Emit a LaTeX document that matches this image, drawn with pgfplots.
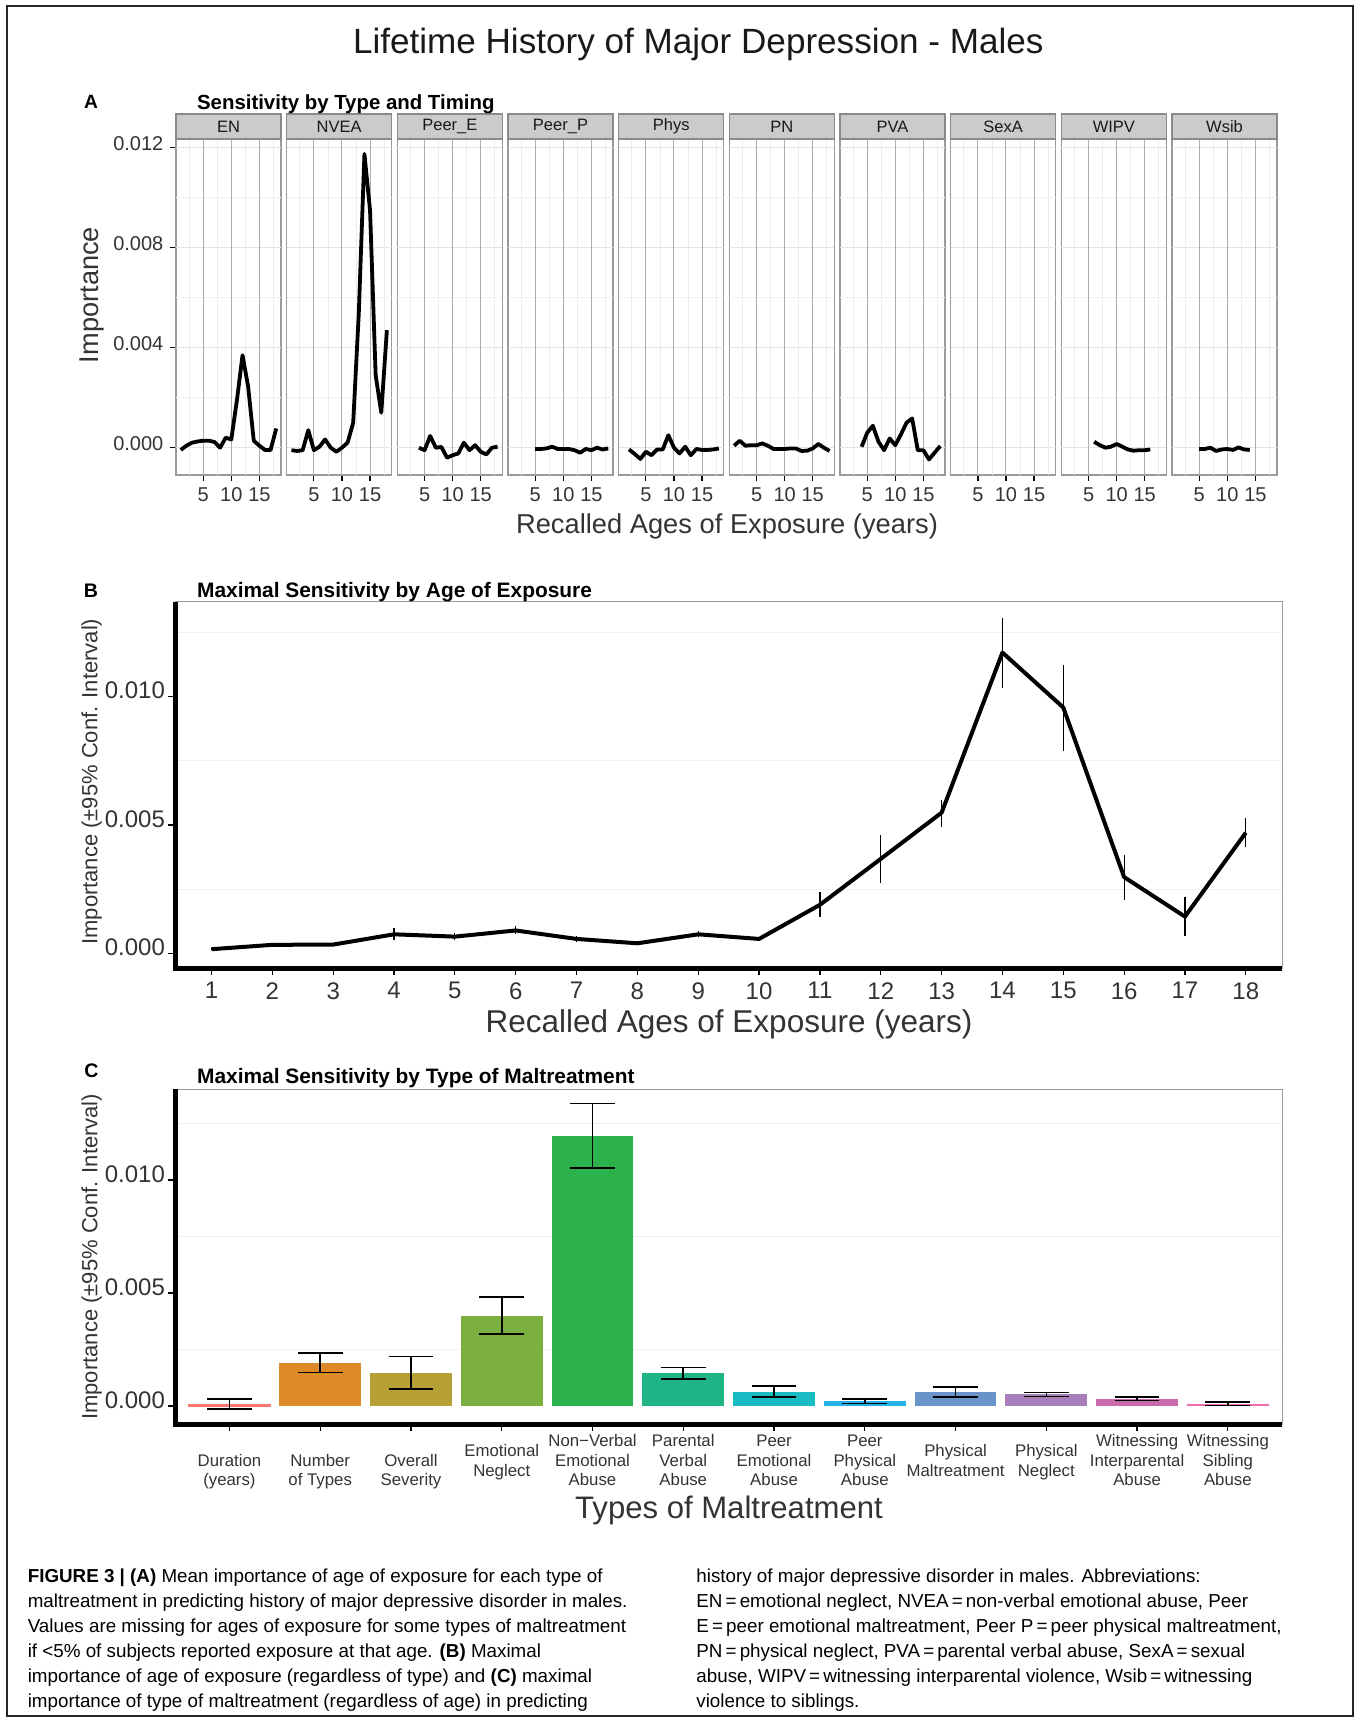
\documentclass[border=0pt]{standalone}
\usepackage{fontspec}
\setmainfont{Liberation Sans}
\usepackage{pgfplots}
\pgfplotsset{compat=1.18}

\definecolor{stripfill}{HTML}{CBCBCB}
\definecolor{stripdraw}{HTML}{8A8A8A}
\definecolor{pborder}{HTML}{9A9A9A}
\definecolor{gmajx}{HTML}{ADADAD}
\definecolor{gminx}{HTML}{EDEDED}
\definecolor{gmajy}{HTML}{E4E4E4}
\definecolor{gminy}{HTML}{F2F2F2}
\definecolor{gridBC}{HTML}{F0F0F0}
\definecolor{txtgray}{HTML}{333333}
\definecolor{cA}{HTML}{F8766D}
\definecolor{cB}{HTML}{DF8A28}
\definecolor{cC}{HTML}{B6A035}
\definecolor{cD}{HTML}{7BAF40}
\definecolor{cE}{HTML}{2BB24C}
\definecolor{cF}{HTML}{20B586}
\definecolor{cG}{HTML}{18BCC2}
\definecolor{cH}{HTML}{22B1E8}
\definecolor{cI}{HTML}{6894CA}
\definecolor{cJ}{HTML}{A57EBA}
\definecolor{cK}{HTML}{C96AAB}
\definecolor{cL}{HTML}{F06BAE}

\newcommand\fs[1]{\fontsize{#1pt}{#1pt}\selectfont}

\newcommand\facetgrid{%
  \draw[gminy, line width=0.4pt] (axis cs:0.15,0.002) -- (axis cs:18.85,0.002);
  \draw[gminy, line width=0.4pt] (axis cs:0.15,0.006) -- (axis cs:18.85,0.006);
  \draw[gminy, line width=0.4pt] (axis cs:0.15,0.010) -- (axis cs:18.85,0.010);
  \draw[gmajy, line width=0.5pt] (axis cs:0.15,0) -- (axis cs:18.85,0);
  \draw[gmajy, line width=0.5pt] (axis cs:0.15,0.004) -- (axis cs:18.85,0.004);
  \draw[gmajy, line width=0.5pt] (axis cs:0.15,0.008) -- (axis cs:18.85,0.008);
  \draw[gmajy, line width=0.5pt] (axis cs:0.15,0.012) -- (axis cs:18.85,0.012);
  \draw[gminx, line width=0.4pt] (axis cs:2.5,-0.001092) -- (axis cs:2.5,0.012348);
  \draw[gminx, line width=0.4pt] (axis cs:7.5,-0.001092) -- (axis cs:7.5,0.012348);
  \draw[gminx, line width=0.4pt] (axis cs:12.5,-0.001092) -- (axis cs:12.5,0.012348);
  \draw[gminx, line width=0.4pt] (axis cs:17.5,-0.001092) -- (axis cs:17.5,0.012348);
  \draw[gmajx, line width=0.5pt] (axis cs:5,-0.001092) -- (axis cs:5,0.012348);
  \draw[gmajx, line width=0.5pt] (axis cs:10,-0.001092) -- (axis cs:10,0.012348);
  \draw[gmajx, line width=0.5pt] (axis cs:15,-0.001092) -- (axis cs:15,0.012348);
}

\pgfplotsset{
  facet/.style={
    scale only axis, width=52.5pt, height=168pt, anchor=south west,
    xmin=0.15, xmax=18.85, ymin=-0.001092, ymax=0.012348,
    xtick={5,10,15}, xticklabels={5,10,15}, ytick=\empty,
    scaled y ticks=false, scaled x ticks=false,
    xtick pos=left, ytick pos=left, tick align=outside,
    major tick length=2.8pt, minor tick length=0pt,
    tick style={black, line width=0.6pt},
    axis line style={draw=pborder, line width=0.6pt},
    tick label style={font=\fs{10}, text=txtgray},
    yticklabel style={yshift=2.2pt},
    every axis title/.style={at={(0.5,1)}, anchor=south, inner sep=0pt, outer sep=0pt,
       fill=stripfill, draw=stripdraw, line width=0.6pt,
       minimum width=52.5pt, minimum height=12.5pt, font=\fs{8.25}, text=black!90},
  },
  dataline/.style={black, line width=1.9pt, line join=round, mark=none},
  bigaxis/.style={
    scale only axis, anchor=south west, width=553.65pt,
    scaled y ticks=false, scaled x ticks=false,
    ytick={0,0.005,0.01}, yticklabels={0.000,0.005,0.010},
    minor ytick={0.0025,0.0075,0.0125}, yminorgrids=true,
    minor grid style={gridBC, line width=0.6pt},
    axis line style={draw=pborder, line width=0.5pt},
    xtick pos=left, ytick pos=left, tick align=outside,
    major tick length=3.5pt, minor tick length=0pt,
    tick style={black, line width=0.6pt},
    tick label style={font=\fs{12}, text=txtgray},
    yticklabel style={yshift=3pt, xshift=2pt},
    clip=false,
  },
}

\newcommand\clab[3]{\node[font=\fs{8.4}, text=txtgray, anchor=base, inner sep=0pt] at ([yshift=-#2pt]axis cs:#1,-0.000796) {#3};}

\begin{document}
\begin{tikzpicture}
\useasboundingbox (0,0) rectangle (678pt,-859.5pt);

% ---------------- Panel A: facets ----------------
\begin{axis}[facet, at={(88pt,-237.5pt)}, title={EN},
  ytick={0,0.004,0.008,0.012}, yticklabels={0.000,0.004,0.008,0.012}]
\facetgrid
\addplot[dataline] coordinates {(1,-0.00009) (2,0.00008) (3,0.0002) (4,0.00025) (5,0.00028) (6,0.00028) (7,0.00023) (8,0.0) (9,0.0004) (10,0.00033) (11,0.0019) (12,0.0037) (13,0.00244) (14,0.00028) (15,0.00008) (16,-0.00009) (17,-0.00009) (18,0.00077)};
\end{axis}

\begin{axis}[facet, at={(143.33pt,-237.5pt)}, title={NVEA}]
\facetgrid
\addplot[dataline] coordinates {(1,-0.0001) (2,-0.00013) (3,-0.0001) (4,0.0007) (5,-0.0001) (6,0.00004) (7,0.00033) (8,0.0) (9,-0.00016) (10,0.0) (11,0.0002) (12,0.001) (13,0.0054) (14,0.01175) (15,0.0095) (16,0.0029) (17,0.0014) (18,0.0047)};
\end{axis}

\begin{axis}[facet, at={(198.67pt,-237.5pt)}, title={Peer\_E}]
\facetgrid
\addplot[dataline] coordinates {(4,0.0) (5,-0.0001) (6,0.00047) (7,0.0) (8,0.00003) (9,-0.0004) (10,-0.0003) (11,-0.00023) (12,0.0002) (13,-0.0001) (14,0.0001) (15,-0.00016) (16,-0.00027) (17,0.0) (18,0.00004)};
\end{axis}

\begin{axis}[facet, at={(254pt,-237.5pt)}, title={Peer\_P}]
\facetgrid
\addplot[dataline] coordinates {(5,-0.00005) (6,-0.00005) (7,-0.00003) (8,0.00004) (9,-0.00005) (10,-0.00005) (11,-0.00005) (12,-0.0001) (13,-0.0002) (14,-0.00005) (15,-0.0001) (16,0.0) (17,-0.00007) (18,-0.00003)};
\end{axis}

\begin{axis}[facet, at={(309.33pt,-237.5pt)}, title={Phys}]
\facetgrid
\addplot[dataline] coordinates {(2,-0.00007) (3,-0.00025) (4,-0.00045) (5,-0.00016) (6,-0.0003) (7,-0.00007) (8,-0.00007) (9,0.0005) (10,0.0) (11,-0.00023) (12,0.00004) (13,-0.0003) (14,-0.00005) (15,-0.00009) (16,-0.00009) (17,-0.00007) (18,-0.00003)};
\end{axis}

\begin{axis}[facet, at={(364.67pt,-237.5pt)}, title={PN}]
\facetgrid
\addplot[dataline] coordinates {(1,0.00008) (2,0.00028) (3,0.00008) (4,0.0001) (5,0.0001) (6,0.00017) (7,0.00008) (8,-0.00005) (9,-0.00005) (10,-0.00005) (11,-0.00003) (12,-0.00003) (13,-0.00013) (14,-0.00012) (15,-0.00003) (16,0.00015) (17,0.0) (18,-0.00013)};
\end{axis}

\begin{axis}[facet, at={(420pt,-237.5pt)}, title={PVA}]
\facetgrid
\addplot[dataline] coordinates {(4,0.00004) (5,0.0006) (6,0.00088) (7,0.00024) (8,-0.0001) (9,0.00037) (10,0.0001) (11,0.00053) (12,0.001) (13,0.00117) (14,-0.0001) (15,-0.0001) (16,-0.00047) (17,-0.0002) (18,0.00007)};
\end{axis}

\begin{axis}[facet, at={(475.33pt,-237.5pt)}, title={SexA}]
\facetgrid
\end{axis}

\begin{axis}[facet, at={(530.67pt,-237.5pt)}, title={WIPV}]
\facetgrid
\addplot[dataline] coordinates {(6,0.00024) (7,0.0001) (8,0.0) (9,0.00004) (10,0.00015) (11,0.00004) (12,-0.00007) (13,-0.00012) (14,-0.0001) (15,-0.0001) (16,-0.00007)};
\end{axis}

\begin{axis}[facet, at={(586pt,-237.5pt)}, title={Wsib}]
\facetgrid
\addplot[dataline] coordinates {(5,-0.00005) (6,-0.00005) (7,0.0) (8,-0.00013) (9,-0.00007) (10,-0.00005) (11,-0.00009) (12,0.00001) (13,-0.00007) (14,-0.00009)};
\end{axis}

% ---------------- Panel B ----------------
\begin{axis}[bigaxis, at={(87.5pt,-484.15pt)}, height=183.3pt,
  xmin=0.4, xmax=18.6, ymin=-0.000585, ymax=0.013702,
  xtick={1,2,3,4,5,6,7,8,9,10,11,12,13,14,15,16,17,18},
  xticklabels={1,2,3,4,5,6,7,8,9,10,11,12,13,14,15,16,17,18}]
\addplot[black, line width=2pt, line join=round, mark=none,
  error bars/.cd, y dir=both, y explicit, error mark=none,
  error bar style={black, line width=0.6pt}]
coordinates {
 (1,0.00016) += (0,0.00004) -= (0,0.00004)
 (2,0.00033) += (0,0.00005) -= (0,0.00005)
 (3,0.00034) += (0,0.00005) -= (0,0.00005)
 (4,0.00074) += (0,0.00023) -= (0,0.00022)
 (5,0.00065) += (0,0.00015) -= (0,0.00013)
 (6,0.00089) += (0,0.00016) -= (0,0.00014)
 (7,0.00056) += (0,0.00012) -= (0,0.00011)
 (8,0.00039) += (0,0.00009) -= (0,0.00008)
 (9,0.00074) += (0,0.00014) -= (0,0.00012)
 (10,0.00056) += (0,0.00008) -= (0,0.00008)
 (11,0.00189) += (0,0.00048) -= (0,0.00048)
 (12,0.00368) += (0,0.00092) -= (0,0.00094)
 (13,0.00548) += (0,0.00048) -= (0,0.00056)
 (14,0.01172) += (0,0.00134) -= (0,0.0014)
 (15,0.00958) += (0,0.00165) -= (0,0.0017)
 (16,0.00297) += (0,0.00087) -= (0,0.0009)
 (17,0.00143) += (0,0.00076) -= (0,0.00077)
 (18,0.0047) += (0,0.00058) -= (0,0.00055)
};
\draw[black, line width=2.5pt, line join=miter] (rel axis cs:0,1) -- (rel axis cs:0,0) -- (rel axis cs:1,0);
\end{axis}

% ---------------- Panel C ----------------
\begin{axis}[bigaxis, at={(87.5pt,-712pt)}, height=167.5pt,
  xmin=0.4, xmax=12.6, ymin=-0.000796, ymax=0.014027,
  xtick={1,2,3,4,5,6,7,8,9,10,11,12}, xticklabels={}]
\addplot[ybar, bar width=0.9, fill=cA, draw=cA, line width=0.9pt] coordinates {(1,0.00004)};
\addplot[ybar, bar width=0.9, fill=cB, draw=none] coordinates {(2,0.00189)};
\addplot[ybar, bar width=0.9, fill=cC, draw=none] coordinates {(3,0.00148)};
\addplot[ybar, bar width=0.9, fill=cD, draw=none] coordinates {(4,0.00399)};
\addplot[ybar, bar width=0.9, fill=cE, draw=none] coordinates {(5,0.01195)};
\addplot[ybar, bar width=0.9, fill=cF, draw=none] coordinates {(6,0.00145)};
\addplot[ybar, bar width=0.9, fill=cG, draw=none] coordinates {(7,0.00063)};
\addplot[ybar, bar width=0.9, fill=cH, draw=none] coordinates {(8,0.00022)};
\addplot[ybar, bar width=0.9, fill=cI, draw=none] coordinates {(9,0.00062)};
\addplot[ybar, bar width=0.9, fill=cJ, draw=none] coordinates {(10,0.00052)};
\addplot[ybar, bar width=0.9, fill=cK, draw=none] coordinates {(11,0.00032)};
\addplot[ybar, bar width=0.9, fill=cL, draw=none] coordinates {(12,0.00009)};
\addplot[draw=none, mark=none,
  error bars/.cd, y dir=both, y explicit, error mark=|,
  error mark options={black, line width=0.8pt, mark size=11.2pt},
  error bar style={black, line width=0.8pt}]
coordinates {
 (1,0.00004) += (0,0.00026) -= (0,0.00017)
 (2,0.00189) += (0,0.00045) -= (0,0.0004)
 (3,0.00148) += (0,0.00071) -= (0,0.00073)
 (4,0.00399) += (0,0.00083) -= (0,0.0008)
 (5,0.01195) += (0,0.00144) -= (0,0.00143)
 (6,0.00145) += (0,0.00025) -= (0,0.00025)
 (7,0.00063) += (0,0.00025) -= (0,0.00022)
 (8,0.00022) += (0,0.0001) -= (0,0.0001)
 (9,0.00062) += (0,0.00021) -= (0,0.00021)
 (10,0.00052) += (0,0.00008) -= (0,0.00009)
 (11,0.00032) += (0,0.00008) -= (0,0.00008)
 (12,0.00009) += (0,0.0001) -= (0,0.00006)
};
\draw[black, line width=2.5pt, line join=miter] (rel axis cs:0,1) -- (rel axis cs:0,0) -- (rel axis cs:1,0);
\clab{1}{21}{Duration}\clab{1}{30.5}{(years)}
\clab{2}{21}{Number}\clab{2}{30.5}{of Types}
\clab{3}{21}{Overall}\clab{3}{30.5}{Severity}
\clab{4}{16.35}{Emotional}\clab{4}{26}{Neglect}
\clab{5}{11.35}{Non−Verbal}\clab{5}{21}{Emotional}\clab{5}{30.5}{Abuse}
\clab{6}{11.35}{Parental}\clab{6}{21}{Verbal}\clab{6}{30.5}{Abuse}
\clab{7}{11.35}{Peer}\clab{7}{21}{Emotional}\clab{7}{30.5}{Abuse}
\clab{8}{11.35}{Peer}\clab{8}{21}{Physical}\clab{8}{30.5}{Abuse}
\clab{9}{16.35}{Physical}\clab{9}{26}{Maltreatment}
\clab{10}{16.35}{Physical}\clab{10}{26}{Neglect}
\clab{11}{11.35}{Witnessing}\clab{11}{21}{Interparental}\clab{11}{30.5}{Abuse}
\clab{12}{11.35}{Witnessing}\clab{12}{21}{Sibling}\clab{12}{30.5}{Abuse}
\end{axis}

% ---------------- Texts and frame ----------------
\begin{scope}[x=0.5pt, y=-0.5pt]
\draw[line width=1pt, black!85] (7,6) rectangle (1353,1716);
\node[anchor=base, font=\fs{17.55}, text=black!90, inner sep=0pt] at (698.3,53.6) {Lifetime History of Major Depression - Males};

\node[font=\bfseries\fs{9.6}, inner sep=0pt] at (91,101.7) {A};
\node[font=\bfseries\fs{9.8}, inner sep=0pt] at (91,590.3) {B};
\node[font=\bfseries\fs{9.8}, inner sep=0pt] at (91.5,1071) {C};

\node[anchor=base west, font=\bfseries\fs{10.2}, inner sep=0pt] at (196.7,109.3) {Sensitivity by Type and Timing};
\node[anchor=base west, font=\bfseries\fs{10.45}, inner sep=0pt] at (196.7,597.3) {Maximal Sensitivity by Age of Exposure};
\node[anchor=base west, font=\bfseries\fs{10.45}, inner sep=0pt] at (196.7,1083.3) {Maximal Sensitivity by Type of Maltreatment};

\node[rotate=90, anchor=base, font=\fs{13.6}, text=txtgray, inner sep=0pt] at (98.5,295) {Importance};
\node[rotate=90, anchor=base, font=\fs{11}, text=txtgray, inner sep=0pt] at (97.3,781.7) {Importance (±95\% Conf. Interval)};
\node[rotate=90, anchor=base, font=\fs{11}, text=txtgray, inner sep=0pt] at (97.3,1256.7) {Importance (±95\% Conf. Interval)};

\node[anchor=base, font=\fs{13.65}, text=txtgray, inner sep=0pt] at (727,533) {Recalled Ages of Exposure (years)};
\node[anchor=base, font=\fs{15.75}, text=txtgray, inner sep=0pt] at (729,1032) {Recalled Ages of Exposure (years)};
\node[anchor=base, font=\fs{15.55}, text=txtgray, inner sep=0pt] at (729,1518) {Types of Maltreatment};

\tikzset{captxt/.style={anchor=base west, font=\fs{9.4}, inner sep=0pt}}
\node[captxt] at (27.4,1582.7) {\textbf{FIGURE 3 | (A)} Mean importance of age of exposure for each type of};
\node[captxt] at (27.4,1607.6) {maltreatment in predicting history of major depressive disorder in males.};
\node[captxt] at (27.4,1632.5) {Values are missing for ages of exposure for some types of maltreatment};
\node[captxt] at (27.4,1657.4) {if <5\% of subjects reported exposure at that age. \textbf{(B)} Maximal};
\node[captxt] at (27.4,1682.3) {importance of age of exposure (regardless of type) and \textbf{(C)} maximal};
\node[captxt] at (27.4,1707.2) {importance of type of maltreatment (regardless of age) in predicting};

\node[captxt] at (696,1582.7) {history of major depressive disorder in males. Abbreviations:};
\node[captxt] at (696,1607.6) {EN\,=\,emotional neglect, NVEA\,=\,non-verbal emotional abuse, Peer};
\node[captxt] at (696,1632.5) {E\,=\,peer emotional maltreatment, Peer P\,=\,peer physical maltreatment,};
\node[captxt] at (696,1657.4) {PN\,=\,physical neglect, PVA\,=\,parental verbal abuse, SexA\,=\,sexual};
\node[captxt] at (696,1682.3) {abuse, WIPV\,=\,witnessing interparental violence, Wsib\,=\,witnessing};
\node[captxt] at (696,1707.2) {violence to siblings.};
\end{scope}
\end{tikzpicture}
\end{document}
